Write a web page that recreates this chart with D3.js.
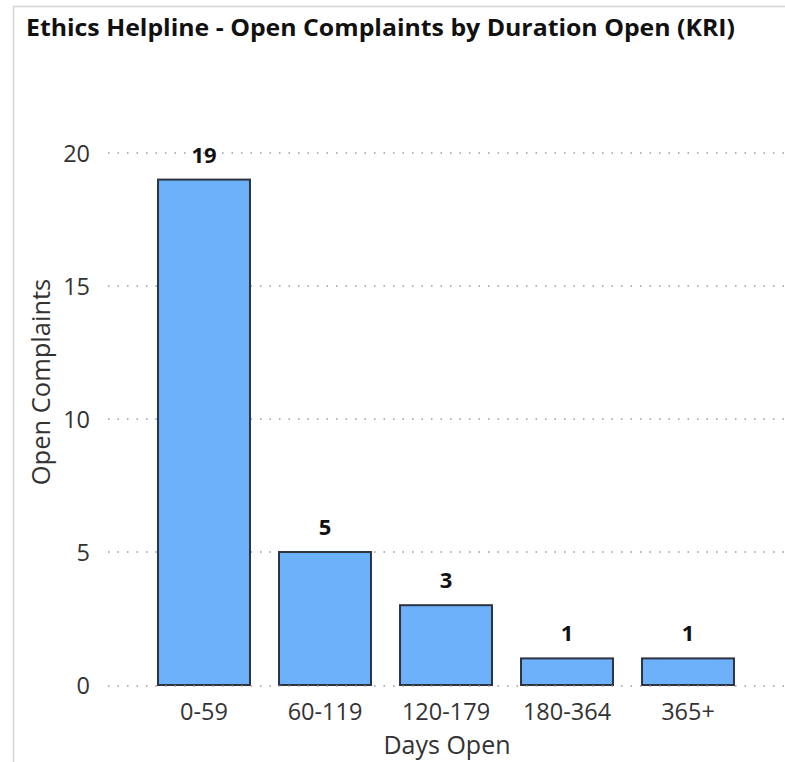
<!DOCTYPE html>
<html><head><meta charset="utf-8">
<script src="https://cdn.jsdelivr.net/npm/d3@7"></script>
<style>body{margin:0;background:#fff;}svg{display:block;}</style>
</head><body>
<script>
const categories = ["0-59","60-119","120-179","180-364","365+"];
const values = [19,5,3,1,1];
const yTicks = [0,5,10,15,20];
const title = "Ethics Helpline - Open Complaints by Duration Open (KRI)";
const xTitle = "Days Open";
const yTitle = "Open Complaints";

const W = 785, H = 762;
const font = "'Open Sans', 'Noto Sans', sans-serif";
const svg = d3.select("body").append("svg").attr("width", W).attr("height", H);

// frame
svg.append("path").attr("d", `M13.5,${H} L13.5,6.5 L${W},6.5`).attr("fill","none").attr("stroke","#d4d4d4").attr("stroke-width",1.5);

svg.append("text").attr("x",26).attr("y",36).attr("font-family",font).attr("font-weight",700)
  .attr("font-size",23.5).attr("fill","#111").attr("textLength",709).attr("lengthAdjust","spacingAndGlyphs").text(title);

const x = d3.scaleBand().domain(categories).range([143.5, 748.5]).paddingInner(0.24).paddingOuter(0.12);
const y = d3.scaleLinear().domain([0,20]).range([685,153]);

// gridlines
svg.append("g").selectAll("line").data(yTicks.filter(d=>d>0)).join("line")
  .attr("x1",108).attr("x2",W).attr("y1",d=>y(d)).attr("y2",d=>y(d))
  .attr("stroke","#999").attr("stroke-width",1.5).attr("stroke-dasharray","1.5,8");

// y axis labels
const yAxis = svg.append("g").attr("transform","translate(90,0)")
  .call(d3.axisLeft(y).tickValues(yTicks).tickSize(0).tickPadding(0));
yAxis.select(".domain").remove();
yAxis.selectAll("text").attr("font-family",font).attr("font-size",23.5).attr("fill","#333").attr("dy","0.34em");

// bars
svg.append("g").selectAll("rect").data(values).join("rect")
  .attr("x",(d,i)=>x(categories[i])).attr("width",x.bandwidth())
  .attr("y",d=>y(d)).attr("height",d=>y(0)-y(d))
  .attr("fill","#6eb1fb").attr("stroke","#2b3440").attr("stroke-width",2);

// zero line
svg.append("line").attr("x1",108).attr("x2",W).attr("y1",y(0)+1).attr("y2",y(0)+1)
  .attr("stroke","#999").attr("stroke-width",1.5).attr("stroke-dasharray","1.5,8");

// value labels
svg.append("g").selectAll("text").data(values).join("text")
  .attr("x",(d,i)=>x(categories[i])+x.bandwidth()/2).attr("y",d=>y(d)-17)
  .attr("text-anchor","middle").attr("font-family",font).attr("font-weight",700)
  .attr("font-size",22).attr("fill","#111").text(d=>d);

// x axis
const xAxis = svg.append("g").attr("transform","translate(0,720)")
  .call(d3.axisBottom(x).tickSize(0).tickPadding(0));
xAxis.select(".domain").remove();
xAxis.selectAll("text").attr("font-family",font).attr("font-size",23.5).attr("fill","#333").attr("dy","0");

svg.append("text").attr("x",447).attr("y",754).attr("text-anchor","middle")
  .attr("font-family",font).attr("font-size",25).attr("fill","#333").text(xTitle);

svg.append("text").attr("transform","translate(50,382) rotate(-90)").attr("text-anchor","middle")
  .attr("font-family",font).attr("font-size",25.5).attr("fill","#333").text(yTitle);
</script>
</body></html>
